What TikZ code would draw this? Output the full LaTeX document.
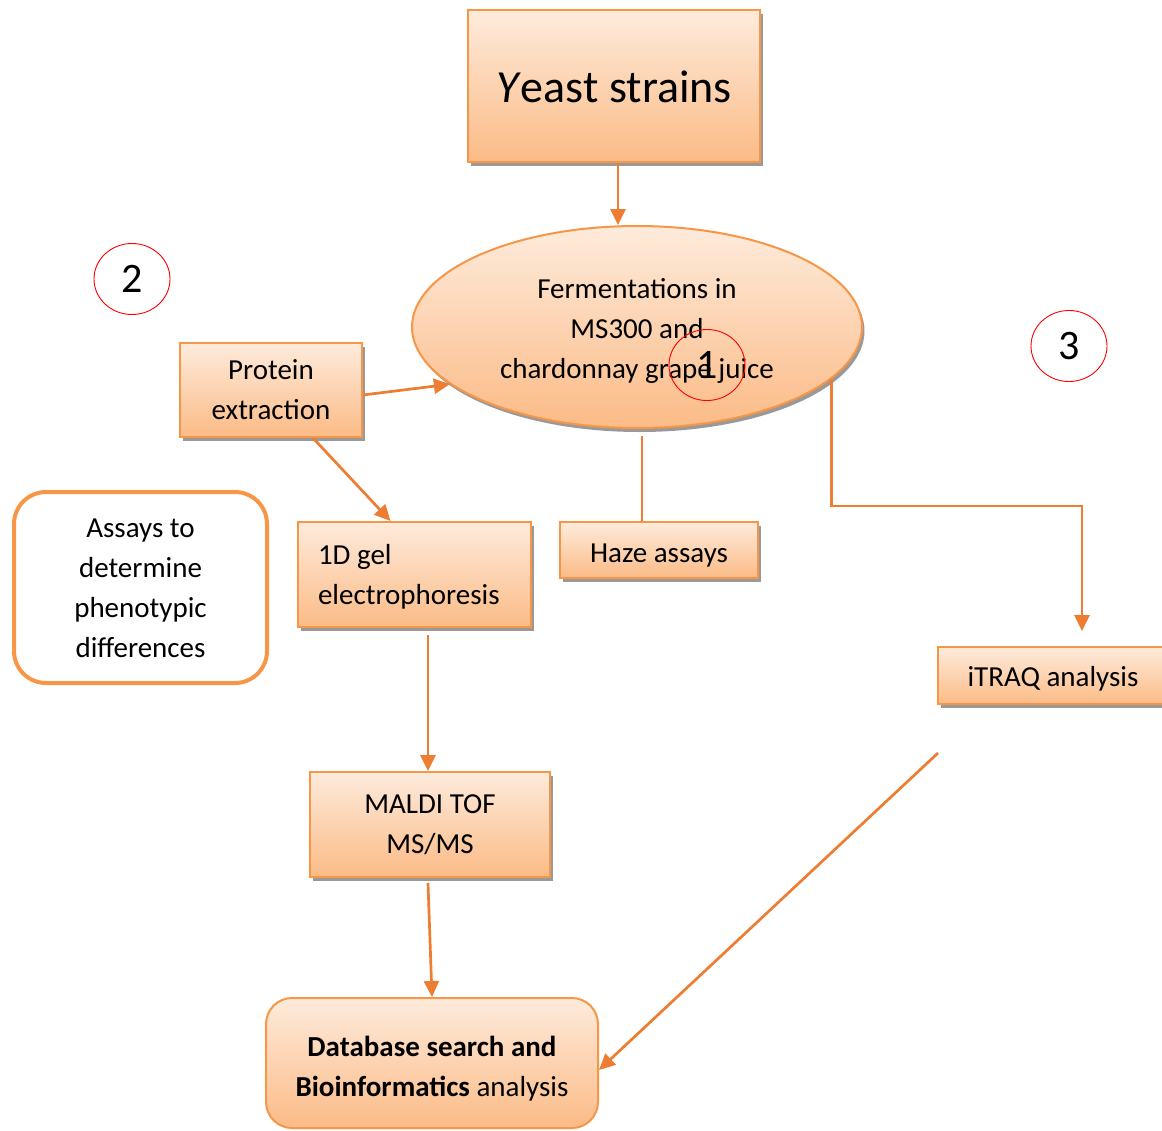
\documentclass[tikz,border=0pt]{standalone}
\usepackage{fontspec}
\setmainfont{Carlito}
\usetikzlibrary{shapes.geometric,shadows,arrows.meta,calc}
\definecolor{boxline}{HTML}{F79646}
\definecolor{arrline}{HTML}{ED7D31}
\definecolor{shadetop}{HTML}{FEEBDC}
\definecolor{shadebot}{HTML}{FBBB86}
% lower a block of text inside its node without changing the node's size
\newcommand{\dropby}[2]{\raisebox{-#1}[\height][\depth]{\begin{tabular}{@{}c@{}}#2\end{tabular}}}
\tikzset{
  peach/.style={draw=boxline, line width=2pt, top color=shadetop, bottom color=shadebot,
    inner sep=0pt, align=center, font=\fontsize{29}{40}\selectfont},
  shadowed/.style={drop shadow={shadow xshift=2.5pt, shadow yshift=-4pt, fill=black, opacity=.4}},
  arr/.style={draw=arrline, line width=2.7pt, -{Triangle[length=16pt,width=15pt]}},
  plainline/.style={draw=arrline, line width=2.7pt},
  numring/.style={ellipse, draw=red, line width=0.9pt, minimum width=76pt, minimum height=71pt,
    inner sep=0pt, font=\fontsize{42}{42}\selectfont}
}
\begin{document}
\begin{tikzpicture}[x=1pt,y=-1pt]
\useasboundingbox (0,0) rectangle (1162,1130);

% process boxes
\node[peach, shadowed, minimum width=292pt, minimum height=152pt,
  font=\fontsize{46}{50}\selectfont] (yeast) at (614,86) {\dropby{6pt}{\textit{Y}east strains}};
\node[peach, shadowed, ellipse, minimum width=450pt, minimum height=202pt] (ferm) at (637,327)
  {\dropby{3pt}{Fermentations in\\MS300 and\\chardonnay grape juice}};
\node[peach, shadowed, minimum width=182pt, minimum height=94pt] (protein) at (271,390)
  {\dropby{1pt}{Protein\\extraction}};
\node[peach, shadowed, minimum width=233pt, minimum height=105pt, inner xsep=20pt,
  text width=193pt, align=left] (gel) at (414.5,574.5)
  {\spaceskip=0pt\relax\raisebox{-2pt}[\height][\depth]{1D gel}\\\raisebox{-2pt}[\height][\depth]{electrophoresis}};
\node[peach, shadowed, minimum width=198pt, minimum height=56pt] (haze) at (659,550) {\dropby{4pt}{Haze assays}};
\node[peach, shadowed, minimum width=230pt, minimum height=57pt] (itraq) at (1053,675.5) {\dropby{3pt}{iTRAQ analysis}};
\node[peach, shadowed, minimum width=240pt, minimum height=105pt] (maldi) at (430,824.5)
  {\dropby{1pt}{MALDI TOF\\MS/MS}};
\node[peach, rounded corners=26pt, minimum width=332pt, minimum height=130pt] (db) at (432,1063)
  {\dropby{5pt}{\textbf{Database search and}\\\textbf{Bioinformatics} analysis}};

% phenotype assays frame
\node[draw=boxline, line width=4pt, fill=white, rounded corners=32pt, minimum width=253pt,
  minimum height=191pt, align=center, inner sep=0pt, font=\fontsize{29}{40}\selectfont]
  (assays) at (140.5,587.5) {\dropby{2pt}{Assays to\\determine\\phenotypic\\differences}};

% connectors
\draw[arr] ([xshift=4pt]yeast.south) -- ([xshift=4pt]yeast.south |- ferm.north);
\draw[arr] ([yshift=-5pt]protein.east) -- (ferm.197);
\draw[arr] ([xshift=42pt]protein.south) -- ([xshift=-24pt]gel.north);

\coordinate (hazefrom) at ($(ferm.south)+(5,7)$);
\draw[plainline] (hazefrom) -- (hazefrom |- haze.north);

\coordinate (itraqin) at ($(itraq.north)+(29,-15)$);
\draw[arr] (ferm.-15) |- ([yshift=125pt]itraqin) -- (itraqin);

\coordinate (gelout) at ($(gel.south)+(13.5,7)$);
\draw[arr] (gelout) -- (gelout |- maldi.north);

\draw[arr] ($(maldi.south)+(-2,5)$) -- (db.north);

\coordinate (loose) at (938,753);
\draw[arr] (loose) -- ([yshift=-7pt]db.east);

% numbered rings
\node[numring] (n1) at (707,365) {1};
\node[numring] (n2) at (132,279) {2};
\node[numring] (n3) at (1069,346) {3};
\end{tikzpicture}
\end{document}
